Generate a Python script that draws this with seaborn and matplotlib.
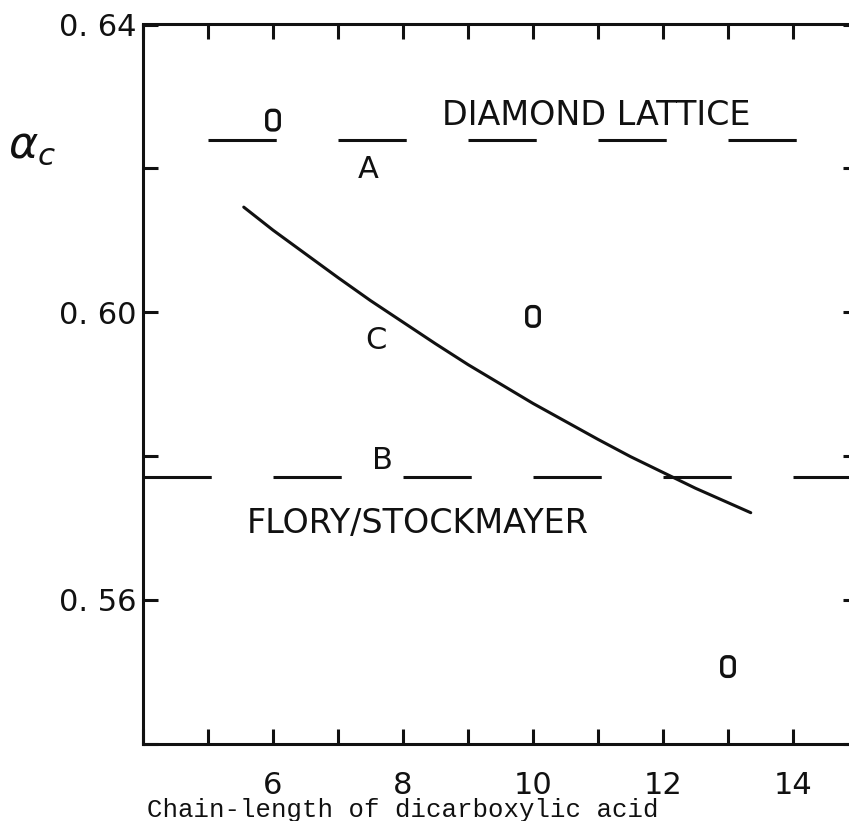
import numpy as np
import pandas as pd
import matplotlib
matplotlib.use("Agg")
import matplotlib.pyplot as plt
from matplotlib.path import Path
import seaborn as sns

# Curve C: predicted critical conversion vs. chain length
curve_x = [5.55, 6.0, 6.5, 7.0, 7.5, 8.0, 8.5, 9.0, 9.5, 10.0,
           10.5, 11.0, 11.5, 12.0, 12.5, 13.0, 13.35]
curve_y = [0.6146, 0.6114, 0.6081, 0.6048, 0.6016, 0.5986, 0.5956, 0.5927, 0.5900, 0.5873,
           0.5848, 0.5823, 0.5799, 0.5777, 0.5755, 0.5735, 0.5721]

# Measured critical conversions
exp_x = [6, 10, 13]
exp_y = [0.6267, 0.5994, 0.5507]

# Reference levels
diamond_level = 0.624   # A: diamond lattice
flory_level = 0.577     # B: Flory/Stockmayer

x_ticks = list(range(4, 16))
x_tick_labels = ["", "", "6", "", "8", "", "10", "", "12", "", "14", ""]
y_ticks = [0.54, 0.56, 0.58, 0.60, 0.62, 0.64]
y_tick_labels = ["", "0. 56", "", "0. 60", "", "0. 64"]

sns.set_style("ticks")
plt.rcParams["font.family"] = ["DejaVu Sans"]
plt.rcParams["lines.scale_dashes"] = False

W, H = 849, 821
fig = plt.figure(figsize=(W / 100, H / 100), dpi=100)
ax = fig.add_axes([143 / W, 77.5 / H, 715 / W, 719 / H])

ink = "#111111"
lw = 2.2

# dashed reference lines (period of two chain-length units)
unit_pt = 65 * 0.72
dash = (0, (1.05 * unit_pt, 0.95 * unit_pt))
ax.hlines(diamond_level, 5, 15, colors=ink, linewidth=lw, linestyles=[dash])
ax.hlines(flory_level, 4, 15, colors=ink, linewidth=lw, linestyles=[dash])

# theory curve
curve = pd.DataFrame({"n": curve_x, "alpha": curve_y})
sns.lineplot(data=curve, x="n", y="alpha", ax=ax, color=ink, linewidth=lw,
             sort=False, estimator=None)


def rounded_rect(w=0.64, h=1.0, r=0.25, n=10):
    pts = []
    corners = [(w / 2 - r, h / 2 - r, 0), (-w / 2 + r, h / 2 - r, 90),
               (-w / 2 + r, -h / 2 + r, 180), (w / 2 - r, -h / 2 + r, 270)]
    for cx, cy, a0 in corners:
        for t in np.linspace(np.radians(a0), np.radians(a0 + 90), n):
            pts.append((cx + r * np.cos(t), cy + r * np.sin(t)))
    pts.append(pts[0])
    return Path(pts, closed=True)


exp = pd.DataFrame({"n": exp_x, "alpha": exp_y})
sns.scatterplot(data=exp, x="n", y="alpha", ax=ax, marker=rounded_rect(),
                s=200, facecolor="none", edgecolor=ink, linewidth=2.4, zorder=5)

# annotations
tfont = dict(family="DejaVu Sans", fontsize=24, color=ink, ha="center", va="center")
ax.text(10.97, 0.6274, "DIAMOND LATTICE", **tfont)
ax.text(8.22, 0.5706, "FLORY/STOCKMAYER", **tfont)
lfont = dict(tfont, fontsize=22)
ax.text(7.46, 0.6199, "A", **lfont)
ax.text(7.69, 0.5793, "B", **lfont)
ax.text(7.58, 0.5961, "C", **lfont)

ax.set_xlim(4, 15)
ax.set_ylim(0.54, 0.64)
ax.set_xticks(x_ticks)
ax.set_xticklabels(x_tick_labels)
ax.set_yticks(y_ticks)
ax.set_yticklabels(y_tick_labels)
ax.set_xlabel("")
ax.set_ylabel("")

for s in ax.spines.values():
    s.set_visible(True)
    s.set_linewidth(lw)
    s.set_color(ink)

ax.tick_params(direction="in", length=10.8, width=lw, color=ink,
               top=True, right=True, labelsize=22, labelcolor=ink)
ax.tick_params(axis="x", pad=20)
ax.tick_params(axis="y", pad=4.5)

fig.text(403 / W, 1 - 810 / H, "Chain-length of dicarboxylic acid",
         family="Liberation Mono", fontsize=18.5, color=ink,
         ha="center", va="center")
fig.text(8 / W, 1 - 146 / H, r"$\alpha_c$", fontsize=32, color=ink,
         ha="left", va="center")

fig.savefig("out.png", dpi=100)
